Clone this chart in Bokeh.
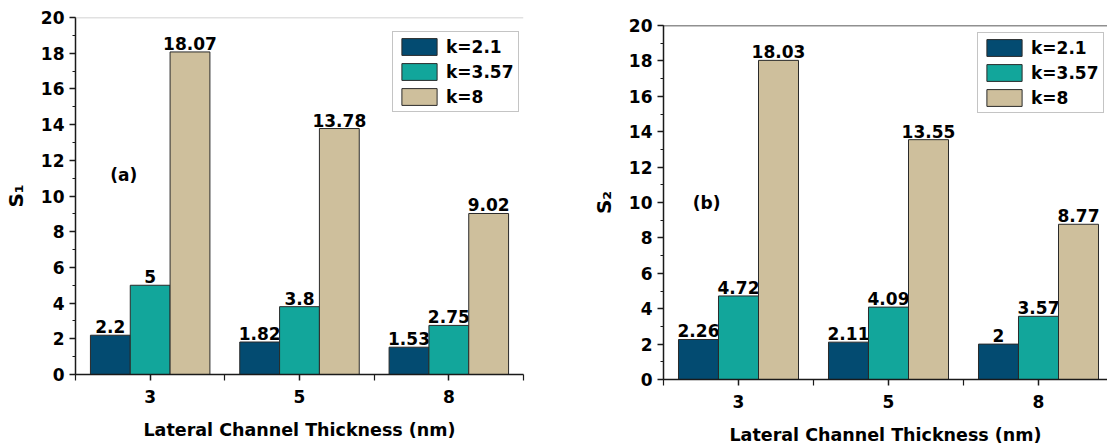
from bokeh.plotting import figure
from bokeh.layouts import row
from bokeh.models import (ColumnDataSource, FixedTicker, SingleIntervalTicker, Span,
                          Legend, LegendItem, Range1d, Label)
from bokeh.embed import file_html
from bokeh.resources import INLINE
from bokeh.core.properties import value

# ---- data ----
categories = ["3", "5", "8"]
series_names = ["k=2.1", "k=3.57", "k=8"]
s1_k21 = [2.2, 1.82, 1.53]
s1_k357 = [5, 3.8, 2.75]
s1_k8 = [18.07, 13.78, 9.02]
s2_k21 = [2.26, 2.11, 2]
s2_k357 = [4.72, 4.09, 3.57]
s2_k8 = [18.03, 13.55, 8.77]
y_max = 20
x_title = "Lateral Channel Thickness (nm)"

colors = ["#034B71", "#12A69B", "#CEBF9C"]
FONT = "DejaVu Sans"
AX = "#1a1a1a"


def make_panel(series, ylabel, tag, tag_x, tag_y, width, height, bl, br, bt, bb,
               x_end, top_color, leg_loc):
    p = figure(width=width, height=height, output_backend="svg", toolbar_location=None,
               x_range=Range1d(-0.5, x_end), y_range=Range1d(0, y_max),
               min_border_left=bl, min_border_right=br, min_border_top=bt,
               min_border_bottom=bb, background_fill_color="white",
               border_fill_color="white")
    p.frame_align = False
    p.outline_line_color = None
    p.xgrid.visible = False
    p.ygrid.visible = False
    n = len(categories)
    bar_w = 0.2667
    offsets = [-bar_w, 0.0, bar_w]
    items = []
    for vals, name, color, off in zip(series, series_names, colors, offsets):
        xs = [i + off for i in range(n)]
        src = ColumnDataSource(dict(x=xs, top=vals, lbl=[f"{v:g}" for v in vals]))
        r = p.vbar(x="x", top="top", bottom=0, width=bar_w, source=src,
                   fill_color=color, line_color="#2a2a2a", line_width=1)
        p.text(x="x", y="top", text="lbl", source=src, text_align="center",
               text_baseline="bottom", y_offset=-2, text_font=value(FONT),
               text_font_style="bold", text_font_size="17px", text_color="black")
        items.append(LegendItem(label=name, renderers=[r]))

    legend = Legend(items=items, location=leg_loc, glyph_width=44, glyph_height=21,
                    label_standoff=5, spacing=4, padding=4, margin=0,
                    label_text_font=FONT, label_text_font_style="bold",
                    label_text_font_size="17px", label_text_color="black",
                    border_line_color="#8a8a8a", border_line_width=1,
                    background_fill_alpha=1.0)
    p.add_layout(legend)

    p.add_layout(Span(location=y_max, dimension="width", line_color=top_color,
                      line_width=1.5))
    p.add_layout(Label(x=tag_x, y=tag_y, text=tag, text_align="center",
                       text_baseline="middle", text_font=FONT, text_font_style="bold",
                       text_font_size="17px", text_color="black"))

    xa = p.xaxis[0]
    xa.ticker = FixedTicker(ticks=list(range(n)),
                            minor_ticks=[i - 0.5 for i in range(n + 1)])
    xa.major_label_overrides = {i: c for i, c in enumerate(categories)}
    xa.axis_label = x_title
    xa.axis_label_standoff = 14
    xa.major_label_standoff = 9
    ya = p.yaxis[0]
    ya.ticker = SingleIntervalTicker(interval=2, num_minor_ticks=2)
    ya.axis_label = ylabel
    ya.axis_label_standoff = 10
    ya.major_label_standoff = 5
    for ax in (xa, ya):
        ax.axis_line_color = AX
        ax.axis_line_width = 1.5
        ax.major_tick_line_color = AX
        ax.minor_tick_line_color = AX
        ax.major_tick_line_width = 1.5
        ax.minor_tick_line_width = 1.2
        ax.major_tick_in = 0
        ax.major_tick_out = 6
        ax.minor_tick_in = 0
        ax.major_label_text_font = FONT
        ax.major_label_text_font_style = "bold"
        ax.major_label_text_font_size = "17px"
        ax.major_label_text_color = "black"
        ax.axis_label_text_font = FONT
        ax.axis_label_text_font_style = "bold"
        ax.axis_label_text_color = "black"
    xa.axis_label_text_font_size = "17.5px"
    ya.axis_label_text_font_size = "20px"
    xa.minor_tick_out = 6
    ya.minor_tick_out = 3
    return p


p1 = make_panel([s1_k21, s1_k357, s1_k8], "S\u2081", "(a)", -0.177, 11.2,
                width=560, height=447, bl=73, br=37, bt=17, bb=73,
                x_end=2.5, top_color="#c4c4c4", leg_loc=(317, 262))
p2 = make_panel([s2_k21, s2_k357, s2_k8], "S\u2082", "(b)", -0.213, 9.97,
                width=547, height=447, bl=103, br=0, bt=25, bb=67,
                x_end=-0.5 + 444 / 150, top_color="#222222", leg_loc=(314, 266))

layout = row(p1, p2, spacing=0)
open("out.html", "w").write(file_html(layout, INLINE))
